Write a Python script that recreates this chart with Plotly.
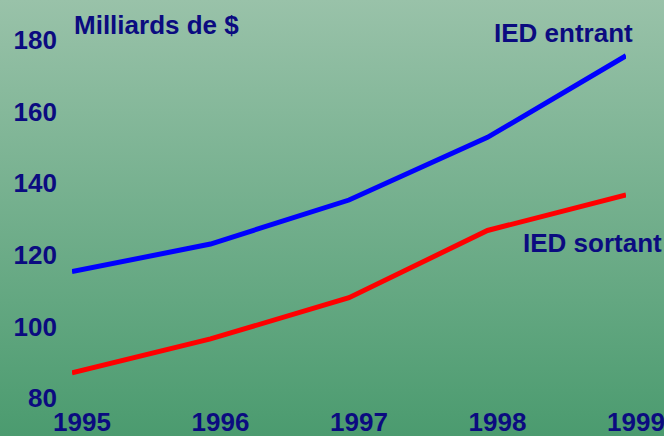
import base64
import plotly.graph_objects as go

years = [1995, 1996, 1997, 1998, 1999]
ied_entrant = [115.3, 123.0, 135.3, 152.8, 175.6]
ied_sortant = [87.0, 96.5, 108.0, 126.8, 136.7]
y_ticks = [80, 100, 120, 140, 160, 180]

W, H = 664, 436
L, R, T, B = 72, 38, 40, 38
pw, ph = W - L - R, H - T - B

svg = (
    f'<svg xmlns="http://www.w3.org/2000/svg" width="{W}" height="{H}">'
    '<defs><linearGradient id="g" x1="0" y1="0" x2="0" y2="1">'
    '<stop offset="0" stop-color="#99C2A9"/><stop offset="1" stop-color="#4B9B6F"/>'
    '</linearGradient></defs>'
    f'<rect width="{W}" height="{H}" fill="url(#g)"/></svg>'
)
src = "data:image/svg+xml;base64," + base64.b64encode(svg.encode()).decode()

navy = "#0B0B80"
font = "Liberation Sans, Arial, sans-serif"

fig = go.Figure()
fig.add_trace(go.Scatter(x=years, y=ied_entrant, mode="lines",
                         line=dict(color="#0000FF", width=5), cliponaxis=False,
                         hoverinfo="skip"))
fig.add_trace(go.Scatter(x=years, y=ied_sortant, mode="lines",
                         line=dict(color="#FF0000", width=5), cliponaxis=False,
                         hoverinfo="skip"))

fig.update_layout(
    width=W, height=H,
    margin=dict(l=L, r=R, t=T, b=B, autoexpand=False),
    showlegend=False,
    paper_bgcolor="#4B9B6F",
    plot_bgcolor="rgba(0,0,0,0)",
    images=[dict(source=src, xref="paper", yref="paper",
                 x=-L / pw, y=1 + T / ph, sizex=W / pw, sizey=H / ph,
                 xanchor="left", yanchor="top", sizing="stretch", layer="below")],
    xaxis=dict(range=[1995, 1999], tickvals=years, ticktext=[str(y) for y in years],
               showgrid=False, zeroline=False, showline=False, ticks="",
               automargin=False,
               tickfont=dict(family=font, size=26, color=navy),
               ticklabelshift=10, ticklabelstandoff=6, ticklabeloverflow="allow"),
    yaxis=dict(range=[80, 180], tickvals=y_ticks, ticktext=[str(v) for v in y_ticks],
               showgrid=False, zeroline=False, showline=False, ticks="",
               automargin=False,
               tickfont=dict(family=font, size=26, color=navy),
               ticklabelstandoff=14),
    annotations=[
        dict(text="<b>Milliards de $</b>", xref="paper", yref="paper",
             x=(72 - L) / pw, y=1 + (T - 25) / ph, xanchor="left", yanchor="middle",
             showarrow=False, font=dict(family=font, size=26, color=navy)),
        dict(text="<b>IED entrant</b>", xref="paper", yref="paper",
             x=(563 - L) / pw, y=1 + (T - 33) / ph, xanchor="center", yanchor="middle",
             showarrow=False, font=dict(family=font, size=26, color=navy)),
        dict(text="<b>IED sortant</b>", xref="paper", yref="paper",
             x=(592 - L) / pw, y=(H - B - 243) / ph, xanchor="center", yanchor="middle",
             showarrow=False, font=dict(family=font, size=26, color=navy)),
    ],
)
fig.update_xaxes(tickfont_weight="bold")
fig.update_yaxes(tickfont_weight="bold")

fig.write_html("out.html", config={"displayModeBar": False},
               post_script="document.body.style.margin='0';document.body.style.overflow='hidden';")
